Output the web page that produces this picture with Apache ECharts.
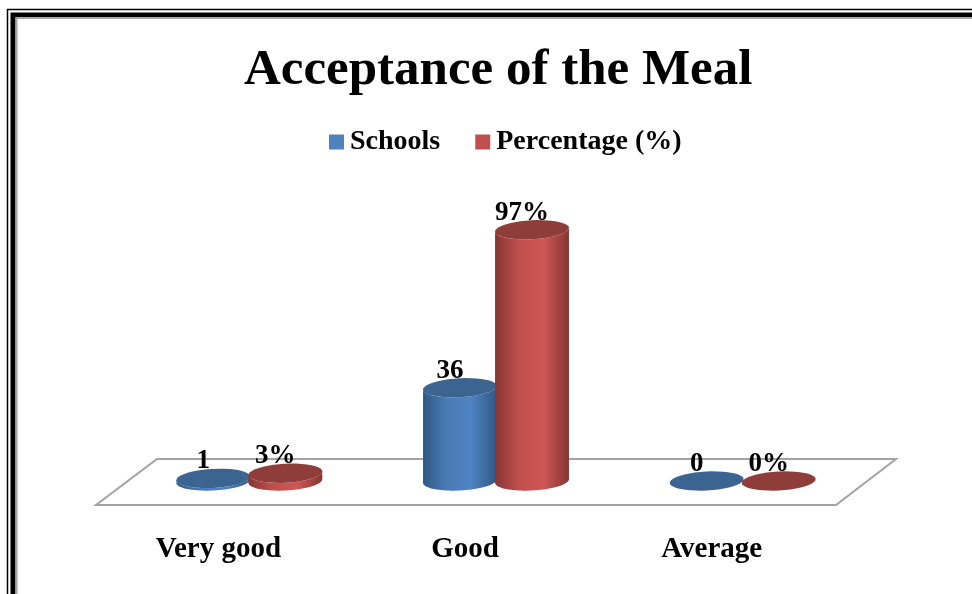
<!DOCTYPE html>
<html>
<head>
<meta charset="utf-8">
<title>Acceptance of the Meal</title>
<style>
html,body{margin:0;padding:0;background:#fff;overflow:hidden}
#chart{width:972px;height:594px}
</style>
</head>
<body>
<div id="chart"></div>
<script src="https://cdn.jsdelivr.net/npm/echarts@6/dist/echarts.min.js"></script>
<script>
var categories = ['Very good', 'Good', 'Average'];
var schools = [1, 36, 0];
var percentage = [3, 97, 0];

var FONT = '"Liberation Serif", serif';
var TILT = -3 * Math.PI / 180;

// sample an ellipse a little rotated, from angle a0 to a1
function arc(cx, cy, rx, ry, a0, a1) {
    var pts = [];
    for (var i = 0; i <= 40; i++) {
        var a = a0 + (a1 - a0) * i / 40;
        var x = rx * Math.cos(a), y = ry * Math.sin(a);
        pts.push([cx + x * Math.cos(TILT) - y * Math.sin(TILT),
                  cy + x * Math.sin(TILT) + y * Math.cos(TILT)]);
    }
    return pts;
}

function cylinder(offset, side, top, suffix) {
    return function (params, api) {
        var base = api.coord([api.value(0), 0]);
        var head = api.coord([api.value(0), api.value(1)]);
        var bw = api.size([1, 0])[0];
        var cx = base[0] + bw * offset;
        var rx = bw * 0.15, ry = 9.5;
        var kids = [];
        if (head[1] < base[1]) {
            var body = arc(cx, head[1], rx, ry, Math.PI, 0).concat(arc(cx, base[1], rx, ry, 0, Math.PI));
            kids.push({
                type: 'polygon',
                shape: { points: body },
                style: {
                    fill: new echarts.graphic.LinearGradient(0, 0, 1, 0, [
                        { offset: 0, color: side[0] },
                        { offset: 0.3, color: side[1] },
                        { offset: 0.65, color: side[2] },
                        { offset: 1, color: side[0] }
                    ])
                }
            });
        }
        kids.push({
            type: 'polygon',
            shape: { points: arc(cx, head[1], rx, ry, 0, Math.PI * 2) },
            style: { fill: top }
        });
        kids.push({
            type: 'text',
            style: {
                x: cx - 10, y: head[1] - 17,
                text: api.value(1) + suffix,
                fill: '#000',
                font: 'bold 27px ' + FONT,
                align: 'center', verticalAlign: 'middle'
            }
        });
        return { type: 'group', children: kids };
    };
}

var chart = echarts.init(document.getElementById('chart'), null, { renderer: 'canvas' });

chart.setOption({
    backgroundColor: '#fff',
    animation: false,
    title: {
        text: 'Acceptance of the Meal',
        left: 239, top: 40,
        textStyle: { fontFamily: FONT, fontWeight: 'bold', fontSize: 51, color: '#000' }
    },
    legend: {
        left: 324, top: 123,
        icon: 'rect',
        itemWidth: 15, itemHeight: 15, itemGap: 35,
        textStyle: { fontFamily: FONT, fontWeight: 'bold', fontSize: 28, color: '#000', padding: [0, 0, 0, 1] },
        data: [
            { name: 'Schools', itemStyle: { color: '#4f81bd' } },
            { name: 'Percentage (%)', itemStyle: { color: '#c0504d' } }
        ]
    },
    grid: { left: 126, width: 740, top: 222, height: 259 },
    xAxis: {
        type: 'category',
        data: categories,
        axisLine: { show: false },
        axisTick: { show: false },
        axisLabel: {
            margin: 54, interval: 0, padding: [0, 62, 0, 0],
            fontFamily: FONT, fontWeight: 'bold', fontSize: 29, color: '#000'
        }
    },
    yAxis: { type: 'value', min: 0, max: 100, show: false },
    graphic: [
        // sheet border, cut by the right and bottom of the picture
        { type: 'polyline', silent: true, shape: { points: [[7.5, 600], [7.5, 9.5], [980, 9.5]] }, style: { fill: 'none', stroke: '#000', lineWidth: 1.5 } },
        { type: 'polyline', silent: true, shape: { points: [[13, 600], [13, 15], [980, 15]] }, style: { fill: 'none', stroke: '#000', lineWidth: 5 } },
        { type: 'polyline', silent: true, shape: { points: [[16.5, 600], [16.5, 18], [980, 18]] }, style: { fill: 'none', stroke: '#a6a6a6', lineWidth: 2 } },
        // chart floor
        { type: 'polygon', silent: true, z: 0, shape: { points: [[157, 459], [896, 459], [836, 505], [96, 505]] }, style: { fill: '#fff', stroke: '#a3a3a3', lineWidth: 2 } }
    ],
    series: [
        {
            name: 'Schools', type: 'custom', z: 3,
            renderItem: cylinder(-0.146, ['#2f5882', '#4a7ab4', '#4f83c2'], '#3c6490', ''),
            itemStyle: { color: '#4f81bd' },
            data: schools.map(function (v, i) { return [i, v]; })
        },
        {
            name: 'Percentage (%)', type: 'custom', z: 4,
            renderItem: cylinder(0.146, ['#853533', '#bd4e4c', '#cf5755'], '#8f3d3a', '%'),
            itemStyle: { color: '#c0504d' },
            data: percentage.map(function (v, i) { return [i, v]; })
        }
    ]
});
</script>
</body>
</html>
